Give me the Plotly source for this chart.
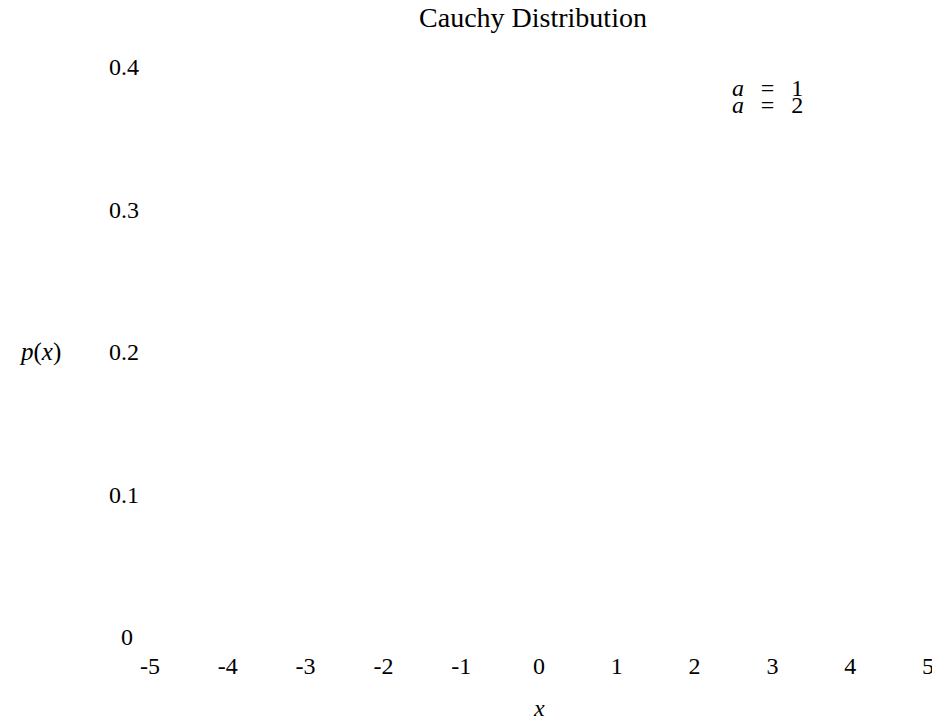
"""Cauchy distribution chart (curves not drawn, only the labelled frame)."""
import plotly.graph_objects as go

# Axis ticks and labels
x_ticks = [-5, -4, -3, -2, -1, 0, 1, 2, 3, 4, 5]
x_tick_labels = ["-5", "-4", "-3", "-2", "-1", "0", "1", "2", "3", "4", "5"]
y_ticks = [0, 0.1, 0.2, 0.3, 0.4]
y_tick_labels = ["0&nbsp;", "0.1", "0.2", "0.3", "0.4"]

# Legend entries (scale parameter a)
series_names = ["<i>a</i>\u2002\u2009=\u2002\u20091", "<i>a</i>\u2002\u2009=\u2002\u20092"]

FONT = "Liberation Serif"
SIZE = 24

# page body has an 8px margin, so the figure is 8px smaller than the window
fig = go.Figure()

fig.update_layout(
    width=932,
    height=711,
    template="none",
    paper_bgcolor="white",
    plot_bgcolor="white",
    font=dict(family=FONT, size=SIZE, color="black"),
    margin=dict(l=142, r=12, t=59, b=82),
    showlegend=False,
    title=dict(text="Cauchy Distribution", x=0.4923, xref="paper", xanchor="center",
               y=1 - 9 / 711, yanchor="middle", yref="container",
               font=dict(family=FONT, size=28)),
)

fig.update_xaxes(range=[-5.0005, 5.0005], tickvals=x_ticks, ticktext=x_tick_labels,
                 showgrid=False, zeroline=False, showline=False, ticks="",
                 ticklabelstandoff=12)
fig.update_yaxes(range=[0, 0.4], tickvals=y_ticks, ticktext=y_tick_labels,
                 showgrid=False, zeroline=False, showline=False, ticks="",
                 ticklabelstandoff=10)

# x label
fig.add_annotation(text="<i>x</i>", xref="x", yref="paper",
                   x=0, y=-71 / 570, xanchor="center", yanchor="middle",
                   showarrow=False)

# y label, written horizontally
fig.add_annotation(text="<i>p</i>(<i>x</i>)", xref="paper", yref="y",
                   x=-0.1414, y=0.2, xanchor="center", yanchor="middle",
                   showarrow=False, font=dict(size=25))

# legend text
legend_y = [0.3853, 0.3733]
for name, ly in zip(series_names, legend_y):
    fig.add_annotation(text=name, xref="x", yref="y", x=2.455, y=ly,
                       xanchor="left", yanchor="middle", showarrow=False)

fig.write_html("out.html")
